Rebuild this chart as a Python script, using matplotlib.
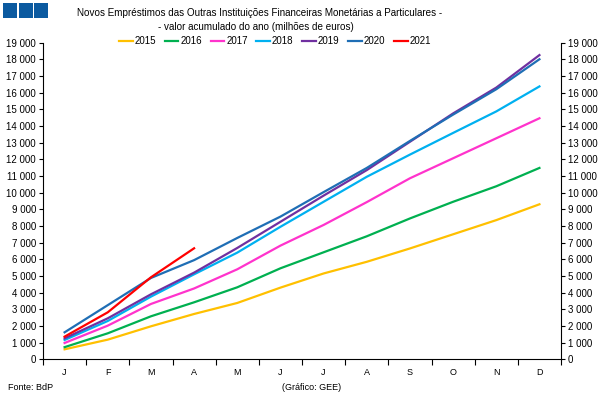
import matplotlib.pyplot as plt
from matplotlib.patches import Rectangle
from matplotlib.ticker import FuncFormatter, MultipleLocator
import numpy as np

plt.rcParams['font.family'] = ['Liberation Sans', 'DejaVu Sans']

months = ["J", "F", "M", "A", "M", "J", "J", "A", "S", "O", "N", "D"]
years = ["2015", "2016", "2017", "2018", "2019", "2020", "2021"]
colors = ["#FFC000", "#00B050", "#FF33CC", "#00B0F0", "#7030A0", "#1F6EB5", "#FF0000"]

v2015 = [600, 1180, 1980, 2720, 3380, 4300, 5150, 5850, 6650, 7500, 8350, 9300]
v2016 = [730, 1560, 2580, 3420, 4320, 5460, 6420, 7380, 8450, 9450, 10380, 11480]
v2017 = [980, 2020, 3320, 4250, 5400, 6820, 8060, 9430, 10860, 12060, 13260, 14460]
v2018 = [1160, 2300, 3760, 5100, 6400, 7950, 9450, 10950, 12280, 13580, 14870, 16370]
v2019 = [1260, 2460, 3900, 5200, 6680, 8250, 9820, 11350, 13050, 14750, 16300, 18250]
v2020 = [1620, 3250, 4880, 5950, 7280, 8560, 10030, 11480, 13100, 14680, 16200, 18000]
v2021 = [1360, 2820, 4920, 6660]
series = [v2015, v2016, v2017, v2018, v2019, v2020, v2021]

fig = plt.figure(figsize=(6.05, 3.98), dpi=100)
ax = fig.add_axes([0.0711, 0.0972, 0.8562, 0.7958])

for name, vals, c in zip(years, series, colors):
    ax.plot(np.arange(len(vals)), vals, color=c, lw=1.6, label=name)

fmt = FuncFormatter(lambda v, p: f"{int(v):,}".replace(",", " "))
ax.set_xlim(-0.5, 11.5)
ax.set_ylim(0, 19000)
ax.yaxis.set_major_locator(MultipleLocator(1000))
ax.yaxis.set_major_formatter(fmt)
ax.set_xticks(np.arange(12))
ax.set_xticklabels(months)
ax.set_xticks(np.arange(-0.5, 12), minor=True)
ax.tick_params(axis="x", which="major", length=0, labelsize=6.5, pad=6)
ax.tick_params(axis="x", which="minor", length=4, width=0.8, direction="out")
ax.tick_params(axis="y", labelsize=7, length=3, width=0.8, pad=2)

ax2 = ax.twinx()
ax2.set_ylim(0, 19000)
ax2.yaxis.set_major_locator(MultipleLocator(1000))
ax2.yaxis.set_major_formatter(fmt)
ax2.tick_params(axis="y", labelsize=7, length=3, width=0.8, pad=2)

for a in (ax, ax2):
    a.spines["top"].set_visible(False)
    for s in ("left", "right", "bottom"):
        a.spines[s].set_linewidth(0.8)
ax.spines["right"].set_visible(False)
ax2.spines["left"].set_visible(False)
ax2.spines["bottom"].set_visible(False)

ax.legend(loc="center", bbox_to_anchor=(275 / 605, 1 - 41 / 398), bbox_transform=fig.transFigure,
          ncol=7, frameon=False, fontsize=7, handlelength=1.4, handletextpad=0.2,
          columnspacing=0.9, borderpad=0)

fig.text(260 / 605, 1 - 13 / 398, "Novos Empréstimos das Outras Instituições Financeiras Monetárias a Particulares -",
         ha="center", va="center", fontsize=7.1)
fig.text(256 / 605, 1 - 27 / 398, "- valor acumulado do ano (milhões de euros)",
         ha="center", va="center", fontsize=7.1)
fig.text(8 / 605, 1 - 388 / 398, "Fonte: BdP", ha="left", va="center", fontsize=6.5)
fig.text(312 / 605, 1 - 388 / 398, "(Gráfico: GEE)", ha="center", va="center", fontsize=6.5)

for i in range(3):
    fig.patches.append(Rectangle(((3 + i * 15.5) / 605, 1 - 18 / 398), 14 / 605, 15 / 398,
                                 transform=fig.transFigure, facecolor="#0B5AA0", lw=0))

fig.savefig("out.png", dpi=100)
